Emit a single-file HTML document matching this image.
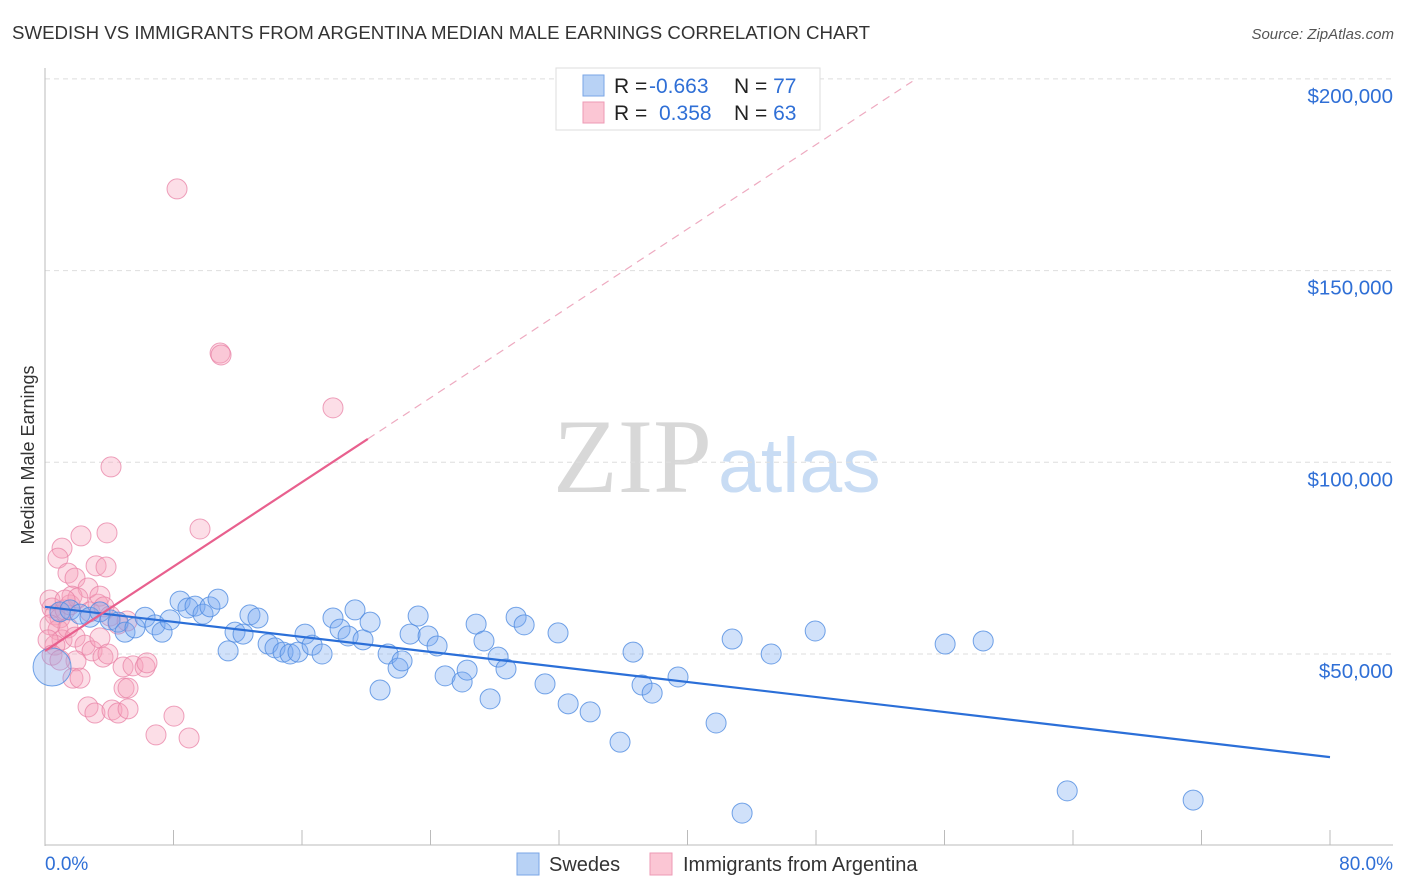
<!DOCTYPE html>
<html><head><meta charset="utf-8"><style>
body{margin:0;background:#fff;font-family:"Liberation Sans",sans-serif;}
svg{display:block}
</style></head><body>
<svg id="chart" width="1406" height="892">
<text x="12" y="39" font-size="18" fill="#333" textLength="858" lengthAdjust="spacingAndGlyphs">SWEDISH VS IMMIGRANTS FROM ARGENTINA MEDIAN MALE EARNINGS CORRELATION CHART</text>
<text x="1394" y="39" font-size="15" fill="#555" font-style="italic" text-anchor="end">Source: ZipAtlas.com</text>
<g>
<text x="553" y="492" font-family="Liberation Serif" font-size="106" fill="#d8d8d8">ZIP</text>
<text x="718" y="492" font-size="77" fill="#c8dcf4">atlas</text>
</g>
<g id="grid"></g>
<g id="axes"></g>
<text transform="translate(34,455) rotate(-90)" font-size="18" fill="#333" text-anchor="middle">Median Male Earnings</text>
<g id="marks"></g>
<g>
<rect x="556" y="68" width="264" height="62" fill="#fff" stroke="#ddd"/>
<rect x="583" y="75" width="21" height="21" fill="#b8d2f5" stroke="#7aa6e6"/>
<rect x="583" y="102" width="21" height="21" fill="#fbc6d4" stroke="#ee9ab4"/>
<text x="614" y="93" font-size="21" fill="#222">R = <tspan x="649" fill="#2f6fd6">-0.663</tspan><tspan x="734">N = </tspan><tspan fill="#2f6fd6">77</tspan></text>
<text x="614" y="120" font-size="21" fill="#222">R = <tspan x="659" fill="#2f6fd6">0.358</tspan><tspan x="734">N = </tspan><tspan fill="#2f6fd6">63</tspan></text>
</g>
<g>
<rect x="517" y="853" width="22" height="22" fill="#b8d2f5" stroke="#7aa6e6"/>
<text x="549" y="871" font-size="20" fill="#333">Swedes</text>
<rect x="650" y="853" width="22" height="22" fill="#fbc6d4" stroke="#ee9ab4"/>
<text x="683" y="871" font-size="20" fill="#333">Immigrants from Argentina</text>
</g>
</svg>
<script>
const yTicks=[50000,100000,150000,200000];
const yTickLabels=["$50,000","$100,000","$150,000","$200,000"];
const xTickVals=[0,8,16,24,32,40,48,56,64,72,80];
const xEndLabels=["0.0%","80.0%"];
const blueX=[0.44,0.93,1.56,2.18,2.80,3.42,4.05,4.55,4.98,5.60,6.23,6.85,7.29,7.78,8.41,8.90,9.34,9.84,10.27,10.77,11.40,11.83,12.33,12.76,13.26,13.89,14.32,14.82,15.26,15.75,16.19,16.63,17.25,17.93,18.37,18.87,19.30,19.80,20.24,20.86,21.36,21.98,22.23,22.73,23.23,23.85,24.41,24.91,25.97,26.28,26.84,27.33,27.71,28.21,28.70,29.33,29.83,31.13,31.94,32.57,33.94,35.80,36.61,37.17,37.80,39.41,41.78,42.78,43.40,45.21,47.95,56.04,58.41,63.64,71.48];
const blueY=[46600,61000,61500,60400,59600,61000,58900,58300,55700,56800,59600,57600,55700,58900,63800,62000,62500,60400,62300,64300,50800,55700,55200,60200,59400,52600,51600,50500,50000,50500,55200,52300,50000,59400,56500,54700,61500,53700,58300,40600,50000,46300,48200,55200,59900,54700,52100,44300,42700,45800,57800,53400,38300,49200,46100,59600,57600,42200,55500,37000,34900,27000,50500,41900,39800,44000,32000,53900,8500,50000,56000,52600,53400,14300,11900];
const pinkX=[8.22,10.90,10.96,17.93,4.11,9.65,2.24,3.86,1.06,0.81,1.43,3.18,3.80,1.87,2.68,0.31,0.44,0.62,0.93,1.25,1.56,1.68,2.05,2.80,3.30,3.42,3.67,4.05,4.55,5.11,0.81,1.06,1.43,1.87,2.49,2.93,3.42,3.61,3.92,4.86,5.48,6.23,6.35,1.93,1.74,2.18,4.92,5.17,2.68,3.11,4.17,4.55,5.17,6.91,8.03,8.97,0.62,0.31,0.19,0.44,0.93,1.25];
const pinkY=[171300,128500,128000,114200,98800,82600,80800,81600,77600,75000,71100,73000,72700,69800,67200,64100,62000,60200,59400,61500,62800,65100,64600,61000,63000,65100,62300,59900,57800,58600,56300,53700,56800,54400,52300,50800,54200,49200,50000,46600,46900,46600,47700,48200,43700,43700,41100,41100,36200,34600,35400,34600,35700,28900,33800,28100,52300,57600,53700,49700,48400,64100];
const blueTrend=[[0,62300],[80,23100]];
const pinkTrend=[[0,50800],[20.1,106100]];
const pinkDashEnd=54.0;

const NS="http://www.w3.org/2000/svg";
const X=v=>45+v*(1285/80);
const Y=v=>654-(v-50000)*(191.7/50000);
function mk(t,a,p){const e=document.createElementNS(NS,t);for(const k in a)e.setAttribute(k,a[k]);p.appendChild(e);return e;}
const grid=document.getElementById('grid'),axes=document.getElementById('axes'),marks=document.getElementById('marks');
yTicks.forEach((v,i)=>{
 const l=mk('line',{x1:45,x2:1393,y1:Y(v),y2:Y(v),stroke:'#dedede','stroke-dasharray':'5,4'},grid);
 
 
 const t=mk('text',{x:1393,y:Y(v)+24,'font-size':20.5,fill:'#2f6fd6','text-anchor':'end'},axes);
 t.textContent=yTickLabels[i];
 
 
});
const ya=mk('line',{x1:45,x2:45,y1:68,y2:846,stroke:'#bbb'},axes);


const xa=mk('line',{x1:45,x2:1393,y1:845,y2:845,stroke:'#bbb'},axes);


xTickVals.forEach(v=>{
 const t=mk('line',{x1:X(v),x2:X(v),y1:830,y2:845,stroke:'#bbb'},axes);
 
 
});
const xl0=mk('text',{x:45,y:870,'font-size':19,fill:'#2f6fd6'},axes);xl0.textContent=xEndLabels[0];


const xl1=mk('text',{x:1393,y:870,'font-size':19,fill:'#2f6fd6','text-anchor':'end'},axes);xl1.textContent=xEndLabels[1];



pinkX.forEach((x,i)=>{
 const c=mk('circle',{cx:X(x),cy:Y(pinkY[i]),r:10,fill:'rgba(245,160,185,0.35)',stroke:'rgba(232,130,165,0.75)','stroke-width':1},marks);
 
 
});
blueX.forEach((x,i)=>{
 const c=mk('circle',{cx:X(x),cy:Y(blueY[i]),r:i===0?19:10,fill:'rgba(120,170,240,0.35)',stroke:'rgba(80,140,225,0.8)','stroke-width':1},marks);
 
 
});
const bt=mk('line',{x1:X(blueTrend[0][0]),y1:Y(blueTrend[0][1]),x2:X(blueTrend[1][0]),y2:Y(blueTrend[1][1]),stroke:'#2b6fd8','stroke-width':2.2},marks);


const slope=(pinkTrend[1][1]-pinkTrend[0][1])/(pinkTrend[1][0]-pinkTrend[0][0]);
const pt=mk('line',{x1:X(pinkTrend[0][0]),y1:Y(pinkTrend[0][1]),x2:X(pinkTrend[1][0]),y2:Y(pinkTrend[1][1]),stroke:'#e8608e','stroke-width':2.2},marks);


const pd=mk('line',{x1:X(pinkTrend[1][0]),y1:Y(pinkTrend[1][1]),x2:X(pinkDashEnd),y2:Y(pinkTrend[0][1]+slope*pinkDashEnd),stroke:'#eeaac0','stroke-width':1.2,'stroke-dasharray':'8,6'},marks);


</script>
</body></html>
